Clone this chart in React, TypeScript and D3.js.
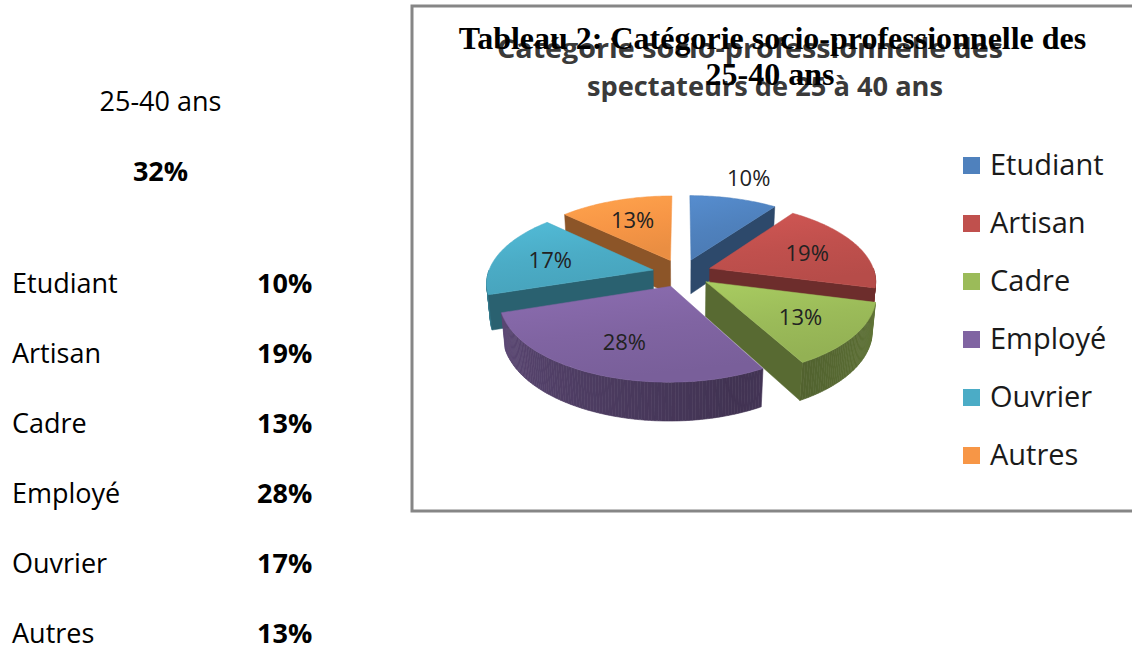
import React from "react";
import * as d3 from "d3";

const categories = ["Etudiant", "Artisan", "Cadre", "Employé", "Ouvrier", "Autres"];
const values = [10, 19, 13, 28, 17, 13];
const valueLabels = ["10%", "19%", "13%", "28%", "17%", "13%"];
const colors = ["#4F81BD", "#C0504D", "#9BBB59", "#8064A2", "#4BACC6", "#F79646"];
const groupLabel = "25-40 ans";
const groupShare = "32%";
const titleLines = ["Tableau 2: Catégorie socio-professionnelle des", "25-40 ans"];
const chartTitleLines = ["Catégorie socio-professionnelle des", "spectateurs de 25 à 40 ans"];

const W = 1132;
const H = 651;

// 3D pie projection settings
const CX = 682;
const CY = 273;
const R = 165;
const ALPHA = (28 * Math.PI) / 180;
const DIST = 6;
const THICK = 0.24;
const EXPLODE = 0.18;

function proj(u: number, v: number, h: number): [number, number] {
  const sa = Math.sin(ALPHA);
  const ca = Math.cos(ALPHA);
  const up = v * sa + h * ca;
  const toward = -v * ca + h * sa;
  const f = DIST / (DIST - toward);
  return [CX + R * u * f, CY - R * up * f];
}

const line = d3.line<[number, number]>().curve(d3.curveLinearClosed);

export default function App() {
  const pieGen = d3.pie<number>().sort(null).value((d) => d);
  const arcs = pieGen(values);

  const slices = arcs.map((a, i) => {
    const a0 = a.startAngle;
    const a1 = a.endAngle;
    const mid = (a0 + a1) / 2;
    const ox = EXPLODE * Math.sin(mid);
    const oy = EXPLODE * Math.cos(mid);
    const pt = (t: number, r: number, h: number) =>
      proj(ox + r * Math.sin(t), oy + r * Math.cos(t), h);
    const step = Math.PI / 180;
    const n = Math.max(2, Math.ceil((a1 - a0) / step) + 1);
    const ts = d3.range(n).map((k) => a0 + ((a1 - a0) * k) / (n - 1));
    const topPts: [number, number][] = [pt(0, 0, 0), ...ts.map((t) => pt(t, 1, 0))];
    const base = d3.color(colors[i])!;

    const lo = Math.max(a0, Math.PI / 2);
    const hi = Math.min(a1, (3 * Math.PI) / 2);
    const wall: { d: string; c: string }[] = [];
    if (hi > lo) {
      const m = Math.max(2, Math.ceil((hi - lo) / step) + 1);
      const ws = d3.range(m).map((k) => lo + ((hi - lo) * k) / (m - 1));
      for (let k = 0; k < ws.length - 1; k++) {
        const t0 = ws[k];
        const t1 = ws[k + 1];
        const tm = ((t0 + t1) / 2) * (180 / Math.PI);
        const dk = 1.9 - 0.95 * Math.min(1, Math.abs(tm - 160) / 90);
        const c = base.darker(dk).formatHex();
        wall.push({
          d: line([pt(t0, 1, 0), pt(t1, 1, 0), pt(t1, 1, -THICK), pt(t0, 1, -THICK)]) || "",
          c,
        });
      }
    }
    const faces: string[] = [];
    if (Math.sin(a0) < -1e-6) {
      faces.push(line([pt(a0, 0, 0), pt(a0, 1, 0), pt(a0, 1, -THICK), pt(a0, 0, -THICK)]) || "");
    }
    if (Math.sin(a1) > 1e-6) {
      faces.push(line([pt(a1, 0, 0), pt(a1, 1, 0), pt(a1, 1, -THICK), pt(a1, 0, -THICK)]) || "");
    }
    const outside = i === 0;
    const lp = outside ? pt(mid, 1.42, 0) : pt(mid, 0.66, 0);
    return {
      i,
      depth: Math.cos(mid),
      top: line(topPts) || "",
      wall,
      faces,
      faceColor: base.darker(1.6).formatHex(),
      topColor: base.formatHex(),
      topLight: base.brighter(0.25).formatHex(),
      topDark: base.darker(0.15).formatHex(),
      lp,
    };
  });

  const order = [...slices].sort((a, b) => b.depth - a.depth);
  const sans = "'Open Sans', 'DejaVu Sans', sans-serif";

  return (
    <svg
      width={W}
      height={H}
      viewBox={`0 0 ${W} ${H}`}
      style={{ position: "absolute", left: 0, top: 0, background: "#fff" }}
      xmlns="http://www.w3.org/2000/svg"
    >
      <defs>
        {slices.map((s) => (
          <linearGradient key={s.i} id={`top${s.i}`} x1="0" y1="0" x2="0.3" y2="1">
            <stop offset="0" stopColor={s.topLight} />
            <stop offset="0.55" stopColor={s.topColor} />
            <stop offset="1" stopColor={s.topDark} />
          </linearGradient>
        ))}
      </defs>
      <rect x={0} y={0} width={W} height={H} fill="#fff" />

      {/* left table */}
      <g fontFamily={sans} fill="#000">
        <text x={160.5} y={111} fontSize={27} textAnchor="middle">{groupLabel}</text>
        <text x={160.5} y={181} fontSize={27} fontWeight="bold" textAnchor="middle">{groupShare}</text>
        {categories.map((c, i) => (
          <g key={c}>
            <text x={12} y={293 + i * 70} fontSize={27}>{c}</text>
            <text x={257} y={293 + i * 70} fontSize={27} fontWeight="bold">{valueLabels[i]}</text>
          </g>
        ))}
      </g>

      {/* chart frame */}
      <rect x={412} y={6} width={760} height={505} fill="#fff" stroke="#868686" strokeWidth={3} />

      {/* chart's own title (greyed) */}
      <g fontFamily={sans} fontWeight="bold" fill="#3a3a3a" fontSize={26}>
        <text x={497} y={58} textLength={506} lengthAdjust="spacingAndGlyphs">{chartTitleLines[0]}</text>
        <text x={587} y={96} textLength={356} lengthAdjust="spacingAndGlyphs">{chartTitleLines[1]}</text>
      </g>

      {/* pie */}
      <g>
        {order.map((s) => (
          <g key={s.i}>
            {s.wall.map((w, k) => (
              <path key={k} d={w.d} fill={w.c} stroke={w.c} strokeWidth={0.6} />
            ))}
            {s.faces.map((f, k) => (
              <path key={`f${k}`} d={f} fill={s.faceColor} stroke={s.faceColor} strokeWidth={0.5} />
            ))}
            <path d={s.top} fill={`url(#top${s.i})`} stroke={s.topColor} strokeWidth={0.5} />
          </g>
        ))}
        {slices.map((s) => (
          <text
            key={`l${s.i}`}
            x={s.lp[0]}
            y={s.lp[1]}
            fontFamily={sans}
            fontSize={22}
            fill="#222"
            textAnchor="middle"
            dominantBaseline="central"
          >
            {valueLabels[s.i]}
          </text>
        ))}
      </g>

      {/* legend */}
      <g fontFamily={sans}>
        {categories.map((c, i) => (
          <g key={c}>
            <rect x={963} y={175 + i * 58 - 18} width={17} height={17} fill={colors[i]} />
            <text x={990} y={175 + i * 58} fontSize={29} fill="#1a1a1a">{c}</text>
          </g>
        ))}
      </g>

      {/* document caption overlapping the chart title */}
      <g fontFamily="'Liberation Serif', 'Times New Roman', serif" fontWeight="bold" fontSize={32} fill="#000" textAnchor="middle">
        <text x={772.5} y={49}>{titleLines[0]}</text>
        <text x={770} y={85}>{titleLines[1]}</text>
      </g>
    </svg>
  );
}
